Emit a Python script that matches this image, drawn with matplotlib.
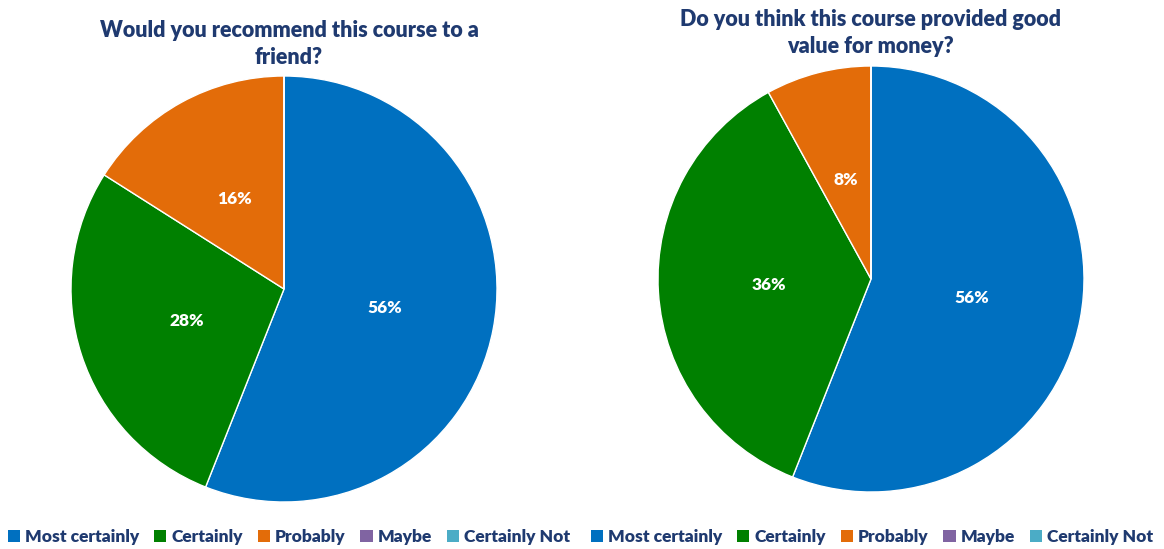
import matplotlib
matplotlib.use("Agg")
import matplotlib.pyplot as plt
from matplotlib.patches import Patch

categories = ["Most certainly", "Certainly", "Probably", "Maybe", "Certainly Not"]
recommend = [56, 28, 16, 0, 0]
value_money = [56, 36, 8, 0, 0]
titles = ["Would you recommend this course to a\nfriend?",
          "Do you think this course provided good\nvalue for money?"]
colors = ["#0070C0", "#008000", "#E36C09", "#8064A2", "#4BACC6"]
navy = "#1F3A70"

W, H = 1164, 549
fig = plt.figure(figsize=(W / 100, H / 100), dpi=100)
plt.rcParams['font.family'] = ['Lato', 'DejaVu Sans']

def add_pie(cx, cy, r, data, title, tx, ty, legx):
    ax = fig.add_axes([(cx - r) / W, 1 - (cy + r) / H, 2 * r / W, 2 * r / H])
    wedges, texts, autotexts = ax.pie(
        data, colors=colors, startangle=90, counterclock=False,
        autopct=lambda p: f"{p:.0f}%" if p > 0 else "",
        pctdistance=0.48, radius=1,
        wedgeprops=dict(linewidth=1, edgecolor="white"),
        textprops=dict(color="white", fontsize=12.5, fontweight="heavy"))
    ax.set_xlim(-1, 1)
    ax.set_ylim(-1, 1)
    ax.set_aspect("equal")
    ax.axis("off")
    fig.text(tx / W, 1 - ty / H, title, ha="center", va="center",
             fontsize=15.5, fontweight="heavy", color=navy, linespacing=1.35)
    handles = [Patch(facecolor=c, edgecolor="none") for c in colors]
    fig.legend(handles, categories, loc="center", ncol=5,
               bbox_to_anchor=(legx / W, 1 - 537 / H), frameon=False,
               handlelength=0.7, handleheight=0.7, handletextpad=0.3,
               columnspacing=0.85,
               prop=dict(size=12.5, weight="heavy"), labelcolor=navy)

add_pie(284, 289, 213, recommend, titles[0], 289, 44, 289)
add_pie(871, 279, 213, value_money, titles[1], 870, 33, 872)

fig.savefig("out.png", dpi=100, facecolor="white")
